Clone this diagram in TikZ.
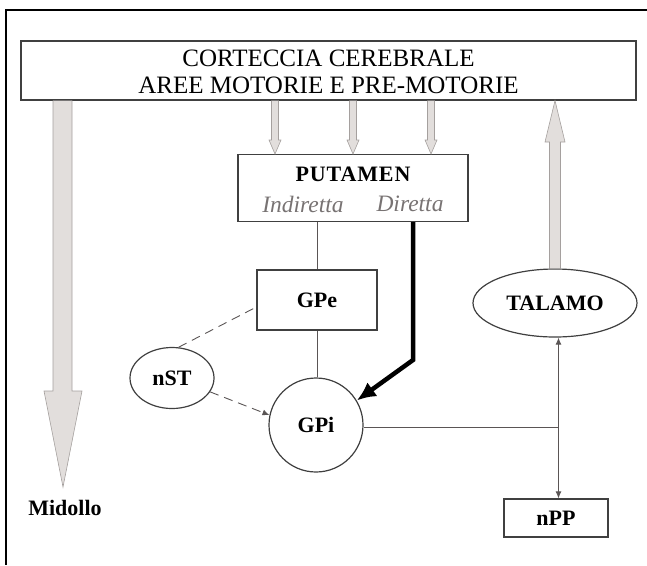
\documentclass[tikz,border=0pt]{standalone}
\usepackage{fontspec}
\setmainfont{Liberation Serif}
\usetikzlibrary{arrows.meta,calc,shapes.geometric}
\definecolor{arrfill}{RGB}{226,222,220}
\definecolor{arrdraw}{RGB}{165,160,158}
\definecolor{linec}{RGB}{90,85,85}
\definecolor{italc}{RGB}{120,115,115}
\begin{document}
\begin{tikzpicture}[x=1pt,y=-1pt,
  box/.style={draw=black!75, line width=1.2pt, fill=white, inner sep=0pt},
  lbl/.style={font=\fontsize{22}{24}\selectfont\bfseries, inner sep=0pt},
  thin/.style={draw=linec, line width=0.9pt},
  fat/.style={fill=arrfill, draw=arrdraw, line width=0.6pt},
  smallhead/.style={-{Latex[length=7pt,width=6pt]}}
]
\useasboundingbox (0,0) rectangle (647,565);
% frame (top and left visible)
\draw[line width=1.1pt] (647,10) -- (6,10) -- (6,565);

% nodes
\node[box, minimum width=615, minimum height=59] (cortex) at (328.5,70.5) {};
\node[inner sep=0pt, align=center, font=\fontsize{25}{27}\selectfont] (ctext) at (328.5,71.5)
  {CORTECCIA CEREBRALE\\AREE MOTORIE E PRE-MOTORIE};

\node[box, minimum width=230, minimum height=67] (put) at (353,188) {};
\node[lbl, font=\fontsize{22}{24}\selectfont\bfseries\addfontfeature{LetterSpace=4}] (putl) at (353,174) {PUTAMEN};
\node[inner sep=0pt, font=\fontsize{23.5}{25}\selectfont\itshape, text=italc] (ind) at (303,204) {Indiretta};
\node[inner sep=0pt, font=\fontsize{23.5}{25}\selectfont\itshape, text=italc] (dir) at (410,204) {Diretta};

\node[box, minimum width=120, minimum height=60, lbl] (gpe) at (317,300) {GPe};
\node[box, circle, minimum size=94, lbl] (gpi) at (316,425) {GPi};
\node[box, ellipse, minimum width=84, minimum height=61, lbl] (nst) at (172,378) {nST};
\node[box, ellipse, minimum width=164, minimum height=68, lbl] (tal) at (555,303) {TALAMO};
\node[box, minimum width=104, minimum height=38, lbl] (npp) at (556,518) {nPP};
\node[lbl] (mid) at (65,508) {Midollo};

% big grey arrow to Midollo
\draw[fat] (53,100.6) -- (53,391) -- (44,391) -- (63,487) -- (82,391) -- (72,391) -- (72,100.6);
% grey arrow from Talamo up to cortex
\draw[fat] (tal.north -| 549.5,0) -- (549.5,142) -- (545,142) -- (555,100.6) -- (565,142) -- (560.5,142) -- (tal.north -| 560.5,0);
% three small grey arrows cortex -> putamen
\foreach \xx in {275,353,431}{
  \draw[fat] (\xx-3.5,100.6) -- (\xx-3.5,140) -- (\xx-6,140) -- (\xx,154) -- (\xx+6,140) -- (\xx+3.5,140) -- (\xx+3.5,100.6);
}

% connectors
\draw[thin] (put.south -| gpe.north) -- (gpe.north);
\draw[thin] (gpe.south) -- (gpe.south |- gpi.north);
\draw[black, line width=4.5pt, -{Latex[length=19pt,width=17pt]}]
  (put.south -| 413,0) -- (413,360) -- (gpi.31);
\draw[thin, dashed, dash pattern=on 9pt off 6pt] (nst.78) -- ($(gpe.west)+(0,7)$);
\draw[thin, dashed, dash pattern=on 9pt off 6pt, smallhead] (nst.-20) -- (gpi.168);
\coordinate (j) at (558.5,427);
\draw[thin] (gpi.east |- j) -- (j);
\draw[thin, {Latex[length=7pt,width=6pt]}-{Latex[length=7pt,width=6pt]}] (tal.south -| j) -- (npp.north -| j);
\end{tikzpicture}
\end{document}
